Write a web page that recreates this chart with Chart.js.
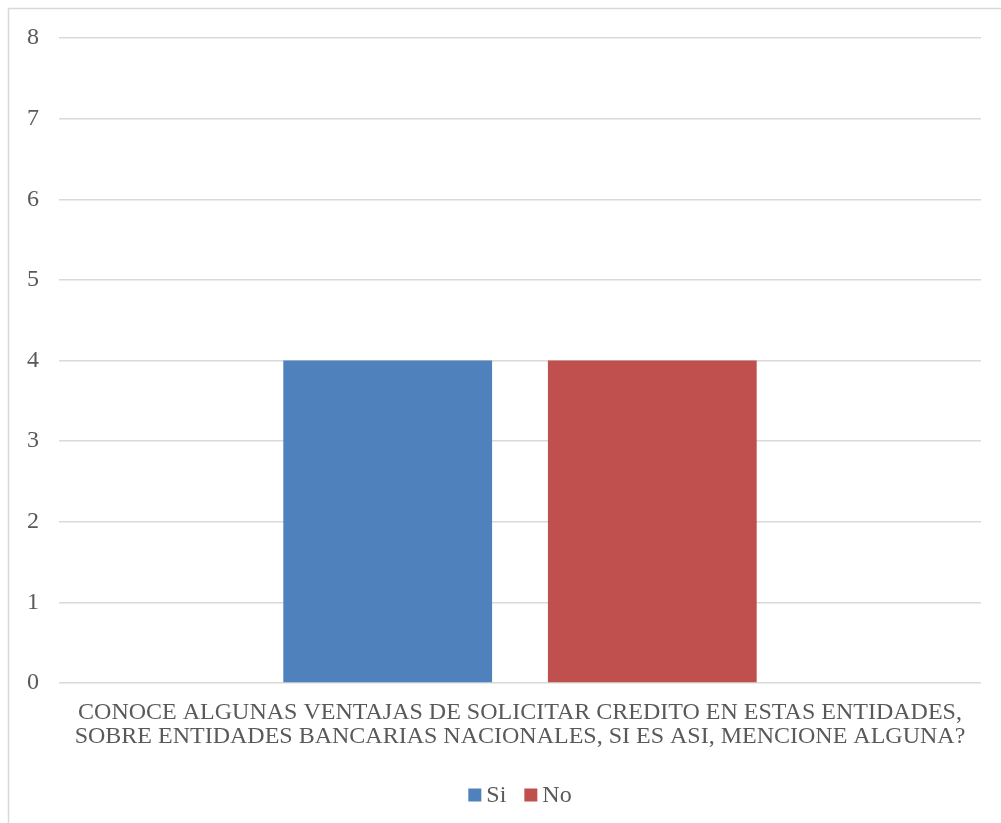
<!DOCTYPE html>
<html>
<head>
<meta charset="utf-8">
<style>
  html, body { margin: 0; padding: 0; background: #fff; }
  #wrap { position: relative; width: 1001px; height: 823px; }
</style>
<script src="https://cdn.jsdelivr.net/npm/chart.js@4/dist/chart.umd.min.js"></script>
</head>
<body>
<div id="wrap"><canvas id="chart"></canvas></div>
<script>
const categories = [['CONOCE ALGUNAS VENTAJAS DE SOLICITAR CREDITO EN ESTAS ENTIDADES,', 'SOBRE ENTIDADES BANCARIAS NACIONALES, SI ES ASI, MENCIONE ALGUNA?']];
const siValues = [4];
const noValues = [4];
const yTicks = [0, 1, 2, 3, 4, 5, 6, 7, 8];

const textColor = '#595959';
const fontFamily = '"Liberation Serif", "Times New Roman", serif';

// light frame around the chart area, like the office export
const framePlugin = {
  id: 'frame',
  beforeDraw(chart) {
    const ctx = chart.ctx;
    ctx.save();
    ctx.fillStyle = '#fff';
    ctx.fillRect(0, 0, chart.width, chart.height);
    ctx.strokeStyle = '#d9d9d9';
    ctx.lineWidth = 1.5;
    ctx.strokeRect(8.5, 8.5, chart.width + 20, chart.height + 20);
    ctx.restore();
  }
};

// office-style legend: small square, tight gap, centred under the plot area
const officeLegend = {
  id: 'officeLegend',
  afterDraw(chart) {
    const ctx = chart.ctx;
    const area = chart.chartArea;
    const box = 13, gap = 5, itemGap = 18;
    const y = 796;
    ctx.save();
    ctx.font = '24px ' + fontFamily;
    ctx.textBaseline = 'middle';
    const items = chart.data.datasets.map(ds => ({
      text: ds.label, color: ds.backgroundColor, w: ctx.measureText(ds.label).width
    }));
    const total = items.reduce((s, it) => s + box + gap + it.w, 0) + itemGap * (items.length - 1);
    let x = (area.left + area.right) / 2 - total / 2;
    items.forEach(it => {
      ctx.fillStyle = it.color;
      ctx.fillRect(x, y - box / 2 - 1, box, box);
      ctx.fillStyle = textColor;
      ctx.fillText(it.text, x + box + gap, y);
      x += box + gap + it.w + itemGap;
    });
    ctx.restore();
  }
};

new Chart(document.getElementById('chart'), {
  type: 'bar',
  data: {
    labels: categories,
    datasets: [
      { label: 'Si', data: siValues, backgroundColor: '#4F81BD' },
      { label: 'No', data: noValues, backgroundColor: '#C0504D' }
    ]
  },
  options: {
    responsive: true,
    maintainAspectRatio: false,
    animation: false,
    categoryPercentage: 0.574,
    barPercentage: 0.789,
    layout: { padding: { left: 7, right: 20, top: 38, bottom: 64 } },
    plugins: {
      legend: { display: false },
      tooltip: { enabled: false }
    },
    scales: {
      x: {
        grid: { display: false },
        border: { display: false },
        ticks: {
          color: textColor,
          font: { family: fontFamily, size: 24, lineHeight: 1.0 },
          padding: 10,
          maxRotation: 0
        }
      },
      y: {
        min: 0,
        max: 8,
        afterBuildTicks(axis) { axis.ticks = yTicks.map(v => ({ value: v })); },
        grid: { color: '#d9d9d9', lineWidth: 1.5, drawTicks: false },
        border: { display: false },
        ticks: {
          color: textColor,
          font: { family: fontFamily, size: 24 },
          padding: 20
        }
      }
    }
  },
  plugins: [framePlugin, officeLegend]
});
</script>
</body>
</html>
